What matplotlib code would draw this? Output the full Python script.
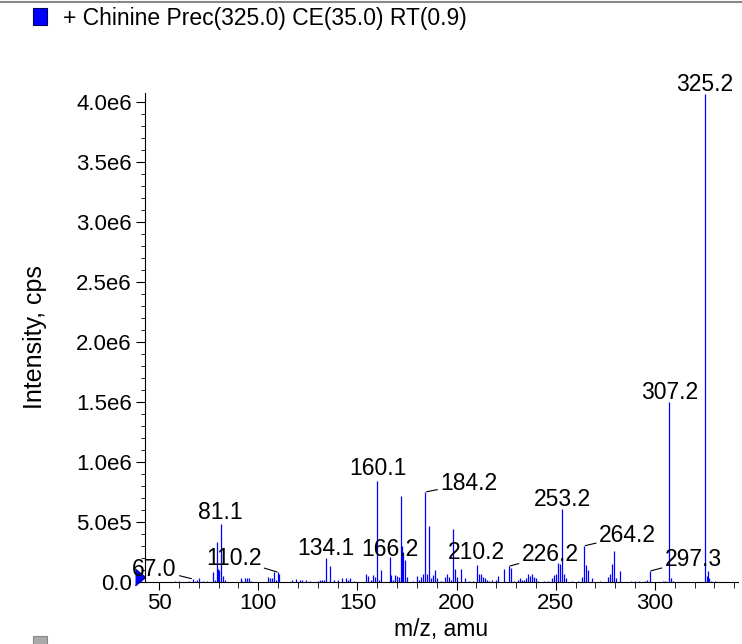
import numpy as np
import matplotlib
matplotlib.use("Agg")
import matplotlib.pyplot as plt
from matplotlib.ticker import MultipleLocator, FuncFormatter
from matplotlib.patches import Rectangle
from matplotlib.lines import Line2D
from matplotlib.transforms import offset_copy

plt.rcParams['font.family'] = ['Liberation Sans', 'DejaVu Sans']

# peak list: m/z and intensity (in 1e6 cps)
mz = [58.0, 60.1, 65.1, 67.0, 68.1, 69.1, 70.1, 72.0, 74.1, 77.0, 78.1, 79.1, 79.6, 80.3,
      81.1, 82.1, 83.1, 91.1, 92.0, 93.1, 94.1, 95.1, 96.1, 105.1, 106.1, 107.1, 108.1,
      109.1, 110.2, 110.6, 117.1, 119.1, 121.1, 122.1, 124.1, 126.1, 130.1, 131.1, 132.1,
      133.1, 134.1, 136.1, 138.1, 140.1, 142.1, 144.1, 145.1, 146.1, 148.1,
      154.1, 155.1, 157.1, 158.1, 159.1, 160.1, 161.1, 162.1, 166.2, 167.1, 168.1, 169.1,
      170.1, 171.1, 172.1, 172.6, 173.2, 174.1, 175.1, 178.1, 180.1, 181.1, 182.1, 183.1,
      184.2, 185.1, 186.2, 187.1, 188.1, 189.1, 190.1, 192.1, 194.1, 195.1, 196.1, 197.1,
      198.1, 199.1, 200.1, 202.1, 204.1, 206.1, 208.1, 210.2, 211.2, 212.2, 213.1, 214.2,
      215.1, 216.1, 218.1, 220.1, 221.1, 224.1, 226.2, 227.2, 229.1, 231.1, 232.1, 233.1,
      234.1, 235.1, 236.1, 237.1, 238.1, 239.1, 240.1, 241.1, 244.1, 246.1, 248.1, 249.1,
      250.1, 251.1, 252.2, 253.2, 254.2, 255.2, 258.1, 261.1, 263.1, 264.2, 265.2, 266.2,
      268.2, 272.1, 276.1, 277.2, 278.2, 279.2, 280.2, 282.2, 288.1, 290.1, 292.1, 295.2,
      296.2, 297.3, 304.2, 305.2, 307.2, 308.2, 309.2, 325.2, 326.2, 326.6, 327.2, 328.2,
      330.2]
intensity = [0.005, 0.008, 0.01, 0.025, 0.012, 0.015, 0.03, 0.008, 0.01, 0.08, 0.02, 0.33, 0.11, 0.10,
             0.48, 0.05, 0.02, 0.03, 0.01, 0.03, 0.03, 0.035, 0.01, 0.04, 0.03, 0.035, 0.08,
             0.02, 0.08, 0.07, 0.02, 0.025, 0.02, 0.02, 0.015, 0.01, 0.01, 0.02, 0.015,
             0.02, 0.20, 0.13, 0.02, 0.02, 0.03, 0.035, 0.02, 0.03, 0.01,
             0.07, 0.05, 0.02, 0.06, 0.04, 0.84, 0.02, 0.10, 0.21, 0.06, 0.02, 0.06,
             0.05, 0.04, 0.72, 0.30, 0.25, 0.18, 0.04, 0.01, 0.05, 0.02, 0.04, 0.07,
             0.75, 0.07, 0.47, 0.03, 0.06, 0.10, 0.03, 0.01, 0.04, 0.07, 0.04, 0.02,
             0.44, 0.11, 0.04, 0.11, 0.03, 0.01, 0.01, 0.14, 0.07, 0.07, 0.04, 0.03,
             0.02, 0.01, 0.015, 0.02, 0.05, 0.11, 0.13, 0.12, 0.01, 0.02, 0.03, 0.02,
             0.02, 0.03, 0.07, 0.05, 0.07, 0.04, 0.03, 0.01, 0.01, 0.01, 0.03, 0.06,
             0.07, 0.16, 0.15, 0.61, 0.07, 0.03, 0.01, 0.01, 0.04, 0.30, 0.14, 0.10,
             0.03, 0.005, 0.04, 0.07, 0.15, 0.26, 0.03, 0.09, 0.01, 0.01, 0.01, 0.01,
             0.015, 0.09, 0.01, 0.01, 1.50, 0.03, 0.01, 4.07, 0.05, 0.09, 0.03, 0.01,
             0.005]

# labelled peaks
label_mz = [67.0, 81.1, 110.2, 134.1, 160.1, 166.2, 184.2, 210.2, 226.2, 253.2, 264.2, 297.3, 307.2, 325.2]
label_txt = ["67.0", "81.1", "110.2", "134.1", "160.1", "166.2", "184.2", "210.2", "226.2",
             "253.2", "264.2", "297.3", "307.2", "325.2"]
# label offset from the peak top in pixels (dx, dy to baseline); dx != 0 gets a leader line
label_off = {"67.0": (-16, 3), "81.1": (0, 5), "110.2": (-17, 7), "134.1": (0, 3),
             "160.1": (0, 6), "166.2": (0, 1), "184.2": (15, 2), "210.2": (0, 6),
             "226.2": (13, 5), "253.2": (0, 3), "264.2": (15, 4), "297.3": (15, 5),
             "307.2": (0, 3), "325.2": (0, 3)}

title = "+ Chinine Prec(325.0) CE(35.0) RT(0.9)"

mz = np.array(mz)
inten = np.array(intensity) * 1e6

W, H = 742, 644
fig = plt.figure(figsize=(W / 100, H / 100), dpi=100)
ax = fig.add_axes([145 / W, 1 - 582 / H, (738 - 145) / W, (582 - 93) / H])

ax.vlines(mz, 0, inten, color='#0000ff', linewidth=0.9)

xmin, xmax = 42.9, 341.9
ax.set_xlim(xmin, xmax)
ax.set_ylim(0, 4.075e6)

ax.spines['top'].set_visible(False)
ax.spines['right'].set_visible(False)
ax.xaxis.set_major_locator(MultipleLocator(50))
ax.xaxis.set_minor_locator(MultipleLocator(10))
ax.yaxis.set_major_locator(MultipleLocator(5e5))
ax.yaxis.set_minor_locator(MultipleLocator(1e5))


def fmt_y(v, pos):
    if v <= 0:
        return "0.0"
    e = int(np.floor(np.log10(v)))
    return f"{v / 10**e:.1f}e{e}"


ax.yaxis.set_major_formatter(FuncFormatter(fmt_y))
ax.tick_params(axis='both', which='major', direction='out', labelsize=16)
ax.tick_params(axis='y', which='major', length=6.5, pad=3)
ax.tick_params(axis='y', which='minor', length=3)
ax.tick_params(axis='x', which='major', length=6, pad=2)
ax.tick_params(axis='x', which='minor', length=4)

ax.set_xlabel("m/z, amu", fontsize=16.5, labelpad=3)
ax.set_ylabel("Intensity, cps", fontsize=18, labelpad=21)

# peak labels
for m, t in zip(label_mz, label_txt):
    i = np.argmin(np.abs(mz - m))
    y = inten[i]
    dx, dy = label_off[t]
    if dx != 0:
        ax.annotate(t, xy=(mz[i], y), xytext=(dx, dy), textcoords='offset pixels',
                    ha='left' if dx > 0 else 'right', va='baseline', fontsize=16.5,
                    arrowprops=dict(arrowstyle='-', color='black', lw=0.8,
                                    shrinkA=0, shrinkB=1),
                    annotation_clip=False)
    else:
        ax.annotate(t, xy=(mz[i], y), xytext=(dx, dy), textcoords='offset pixels',
                    ha='center', va='baseline', fontsize=16.5, annotation_clip=False)

# blue start marker on the axis
tri = offset_copy(ax.transData, fig=fig, x=-5, y=5, units='dots')
ax.plot([xmin], [0], marker=[(-0.6, -1), (0.6, 0), (-0.6, 1)], markersize=12,
        color='#0000ff', markeredgecolor='#0000aa', transform=tri, clip_on=False)

# header: legend square, text, top rule
fig.add_artist(Line2D([0, 1], [1 - 2 / H, 1 - 2 / H], color='#888888', lw=1.5))
fig.patches.append(Rectangle((33 / W, 1 - 25 / H), 14 / W, 17 / H, transform=fig.transFigure,
                             facecolor='#0000ff', edgecolor='#000066', lw=0.8))
fig.text(63 / W, 1 - 19 / H, title, fontsize=16.5, va='center', ha='left')
fig.patches.append(Rectangle((33 / W, 1 - 650 / H), 14 / W, 14 / H, transform=fig.transFigure,
                             facecolor='#aaaaaa', edgecolor='#888888', lw=0.8))

fig.savefig("out.png", dpi=100)
